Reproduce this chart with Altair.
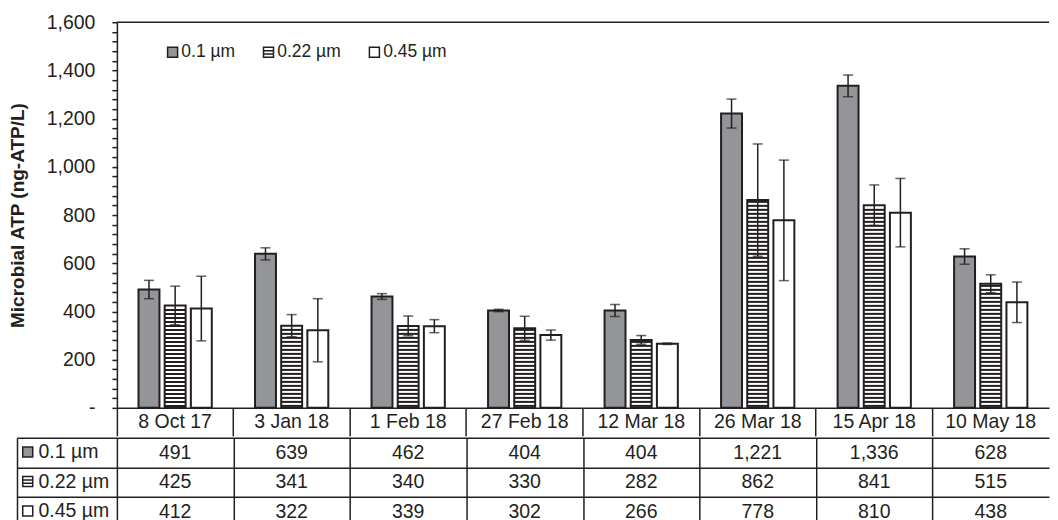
import altair as alt
import pandas as pd

dates = ["8 Oct 17", "3 Jan 18", "1 Feb 18", "27 Feb 18", "12 Mar 18",
         "26 Mar 18", "15 Apr 18", "10 May 18"]
series = ["0.1 µm", "0.22 µm", "0.45 µm"]
atp_01 = [491, 639, 462, 404, 404, 1221, 1336, 628]
atp_022 = [425, 341, 340, 330, 282, 862, 841, 515]
atp_045 = [412, 322, 339, 302, 266, 778, 810, 438]
err_01 = [38, 25, 12, 5, 25, 60, 45, 32]
err_022 = [80, 46, 41, 50, 18, 233, 84, 37]
err_045 = [134, 131, 27, 21, 3, 250, 142, 84]
y_ticks = list(range(0, 1601, 40))
y_max = 1600

DARK = "#231f20"
GRAY = "#939598"
FONT = "Liberation Sans"
FS = 19.5
PLOT_W = 933
BAND = PLOT_W / len(dates)
ROW_H = 29.5

rows = []
for s, vals, errs in zip(series, [atp_01, atp_022, atp_045], [err_01, err_022, err_045]):
    for d, v, e in zip(dates, vals, errs):
        rows.append({"date": d, "series": s, "value": v, "lo": v - e, "hi": v + e})
df = pd.DataFrame(rows)

# horizontal hatch of the 0.22 µm bars
STRIPE_STEP = 16.6
STRIPE_THICK = 8.3
stripe_rows = []
for d, v in zip(dates, atp_022):
    k = 0
    while True:
        lo = k * STRIPE_STEP + 4
        hi = lo + STRIPE_THICK
        if hi > v - 2:
            break
        stripe_rows.append({"date": d, "series": "0.22 µm", "lo": lo, "hi": hi})
        k += 1
stripes_df = pd.DataFrame(stripe_rows)

SQ = "M-1,-1H1V1H-1Z"
SQ_STRIPE = "M-1,-1H1V1H-1Z M-1,-0.33H1 M-1,0.33H1"

fill_scale = alt.Scale(domain=series, range=[GRAY, "#ffffff", "#ffffff"])
stroke_scale = alt.Scale(domain=series, range=[DARK, DARK, DARK])
shape_scale = alt.Scale(domain=series, range=[SQ, SQ_STRIPE, SQ])

x_scale = alt.Scale(domain=dates, paddingInner=0, paddingOuter=0)
xo = alt.XOffset("series:N", sort=series,
                 scale=alt.Scale(domain=series, paddingInner=0.2, paddingOuter=0.826))
y_scale = alt.Scale(domain=[0, y_max], nice=False)

x_axis = alt.Axis(title=None, orient="bottom", labelFontSize=FS, labelColor=DARK,
                  labelFont=FONT, labelAngle=0, labelBaseline="middle", labelPadding=-14,
                  bandPosition=0, tickExtra=False, tickSize=28, tickColor=DARK, tickWidth=1.5,
                  domainColor=DARK, domainWidth=1.5, grid=False)
y_axis = alt.Axis(title="Microbial ATP (ng-ATP/L)", titleFont=FONT, titleFontSize=19,
                  titleFontWeight="bold", titleColor=DARK, titlePadding=19,
                  values=y_ticks,
                  labelExpr="datum.value == 0 ? '-' : (datum.value % 200 == 0 ? format(datum.value, ',') : '')",
                  labelFontSize=FS, labelFont=FONT, labelColor=DARK, labelPadding=17,
                  tickSize=5, tickColor=DARK, tickWidth=1.5,
                  domainColor=DARK, domainWidth=1.5, grid=False,
                  labelOverlap=False, labelFlush=False)

legend_top = alt.Legend(title=None, orient="none", legendX=47, legendY=21,
                        direction="horizontal", labelFontSize=17.5, labelFont=FONT,
                        labelColor=DARK, symbolSize=100, symbolStrokeColor=DARK,
                        symbolStrokeWidth=1.5, symbolOpacity=1, labelOffset=0,
                        columnPadding=24, padding=0)

X = alt.X("date:N", sort=dates, scale=x_scale, axis=x_axis)

base = alt.Chart(df)
bars = base.mark_bar(stroke=DARK, strokeWidth=2).encode(
    x=X, xOffset=xo,
    y=alt.Y("value:Q", scale=y_scale, axis=y_axis),
    fill=alt.Fill("series:N", sort=series, scale=fill_scale, legend=legend_top),
)
stripes = alt.Chart(stripes_df).mark_bar(fill=DARK, strokeWidth=0).encode(
    x=X, xOffset=xo,
    y=alt.Y("lo:Q", scale=y_scale, axis=y_axis),
    y2="hi:Q",
)
err_rule = base.mark_rule(color=DARK, strokeWidth=1.5).encode(
    x=X, xOffset=xo,
    y=alt.Y("lo:Q", scale=y_scale, axis=y_axis),
    y2="hi:Q",
)
cap_lo = base.mark_tick(color=DARK, thickness=1.5, size=10).encode(
    x=X, xOffset=xo,
    y=alt.Y("lo:Q", scale=y_scale, axis=y_axis),
)
cap_hi = base.mark_tick(color=DARK, thickness=1.5, size=10).encode(
    x=X, xOffset=xo,
    y=alt.Y("hi:Q", scale=y_scale, axis=y_axis),
)
# top border of the plot area, at the top of the value scale
top_border = alt.Chart(pd.DataFrame({"top": [y_max]})).mark_rule(
    color=DARK, strokeWidth=1.5).encode(
    y=alt.Y("top:Q", scale=y_scale, axis=y_axis),
)
legend_pts = base.mark_point(filled=True, opacity=1, size=100, strokeWidth=1.5).encode(
    x=X,
    y=alt.Y("value:Q", scale=y_scale, axis=y_axis),
    fill=alt.Fill("series:N", sort=series, scale=fill_scale, legend=legend_top),
    stroke=alt.Stroke("series:N", sort=series, scale=stroke_scale, legend=legend_top),
    shape=alt.Shape("series:N", sort=series, scale=shape_scale, legend=legend_top),
).transform_filter("false")

bar_chart = alt.layer(bars, stripes, err_rule, cap_lo, cap_hi, top_border, legend_pts).properties(
    width=PLOT_W, height=386)

# ---- data table ----
legend_tab = alt.Legend(title=None, orient="none", legendX=-99, legendY=4.5,
                        direction="vertical", labelFontSize=FS, labelFont=FONT,
                        labelColor=DARK, symbolSize=100, symbolStrokeColor=DARK,
                        symbolStrokeWidth=1.5, symbolOpacity=1, labelOffset=1,
                        rowPadding=ROW_H - FS - 1.5, padding=0)
tx_scale = alt.Scale(domain=dates, paddingInner=0, paddingOuter=0)
ty_scale = alt.Scale(domain=series, paddingInner=0, paddingOuter=0)
tx_axis = alt.Axis(title=None, labels=False, ticks=False, domain=False, grid=True,
                   gridColor=DARK, gridWidth=1.5, gridOpacity=1,
                   tickOffset=-BAND / 2, orient="bottom")
ty_axis = alt.Axis(title=None, labels=False, ticks=True, tickSize=100, tickColor=DARK,
                   tickWidth=1.5, tickBand="extent", grid=True, gridColor=DARK,
                   gridWidth=1.5, gridOpacity=1, domain=False, orient="left")
ty_axis2 = alt.Axis(title=None, labels=False, ticks=False, grid=False, domain=True,
                    domainColor=DARK, domainWidth=1.5, orient="left", offset=100)

TX = alt.X("date:N", sort=dates, scale=tx_scale, axis=tx_axis)
t_text = base.mark_text(fontSize=FS, font=FONT, color=DARK).encode(
    x=TX,
    y=alt.Y("series:N", sort=series, scale=ty_scale, axis=ty_axis),
    text=alt.Text("value:Q", format=","),
)
t_pts = base.mark_point(filled=True, opacity=1, size=100, strokeWidth=1.5).encode(
    x=TX,
    y=alt.Y("series:N", sort=series, scale=ty_scale, axis=ty_axis2),
    fill=alt.Fill("series:N", sort=series, scale=fill_scale, legend=legend_tab),
    stroke=alt.Stroke("series:N", sort=series, scale=stroke_scale, legend=legend_tab),
    shape=alt.Shape("series:N", sort=series, scale=shape_scale, legend=legend_tab),
).transform_filter("false")

table = alt.layer(t_text, t_pts).resolve_axis(y="independent").properties(
    width=PLOT_W, height=ROW_H * len(series))

chart = alt.vconcat(bar_chart, table, spacing=0).resolve_scale(
    fill="independent", shape="independent", stroke="independent", x="independent"
).resolve_legend(fill="independent", shape="independent", stroke="independent").properties(
    padding={"left": 0, "top": 4, "right": 0, "bottom": 0}
).configure(font=FONT).configure_view(strokeWidth=0)

chart.save("out.html", embed_options={"renderer": "svg", "actions": False})
